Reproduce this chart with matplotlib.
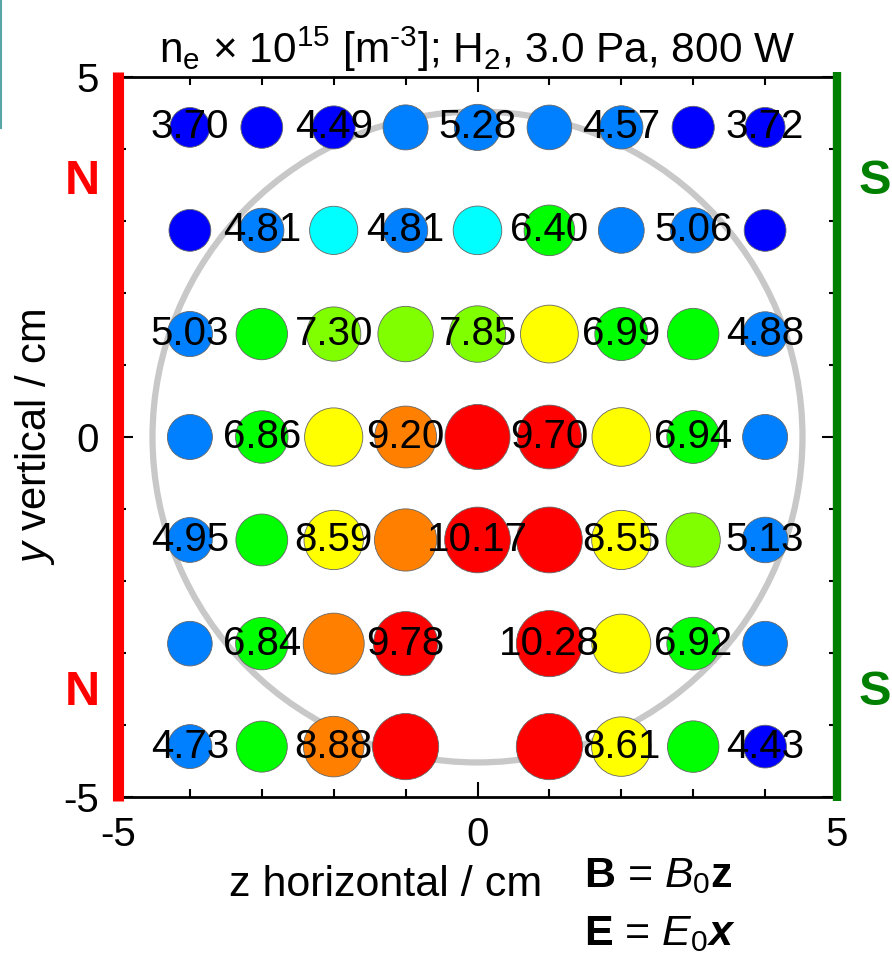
import matplotlib
matplotlib.use("Agg")
import matplotlib.pyplot as plt
from matplotlib.patches import Circle
from matplotlib.lines import Line2D
from matplotlib.ticker import MultipleLocator

plt.rcParams['font.family'] = ['Liberation Sans', 'DejaVu Sans']
plt.rcParams['mathtext.fontset'] = 'custom'
plt.rcParams['mathtext.rm'] = 'Liberation Sans'
plt.rcParams['mathtext.it'] = 'Liberation Sans:italic'
plt.rcParams['mathtext.bf'] = 'Liberation Sans:bold'
plt.rcParams['mathtext.bfit'] = 'Liberation Sans:italic:bold'
plt.rcParams['axes.unicode_minus'] = False

# ---------------- data ----------------
z_cols = [-4, -3, -2, -1, 0, 1, 2, 3, 4]
row_y = [4.3, 2.87, 1.43, 0.0, -1.43, -2.87, -4.3]

# electron density (x 1e15 m^-3); unlabeled points estimated from colour/size; None = no probe
ne_row1 = [3.70, 4.20, 4.49, 5.00, 5.28, 4.90, 4.57, 4.30, 3.72]
ne_row2 = [4.20, 4.81, 5.80, 4.81, 5.90, 6.40, 5.20, 5.06, 4.20]
ne_row3 = [5.03, 6.60, 7.30, 7.60, 7.85, 8.20, 6.99, 6.60, 4.88]
ne_row4 = [5.00, 6.86, 8.30, 9.20, 10.00, 9.70, 8.40, 6.94, 5.00]
ne_row5 = [4.95, 6.70, 8.59, 9.30, 10.17, 10.20, 8.55, 7.30, 5.13]
ne_row6 = [4.90, 6.84, 9.00, 9.78, None, 10.28, 8.50, 6.92, 4.90]
ne_row7 = [4.73, 6.50, 8.88, 10.30, None, 10.30, 8.61, 6.60, 4.43]

lab_row1 = ["3.70", "", "4.49", "", "5.28", "", "4.57", "", "3.72"]
lab_row2 = ["", "4.81", "", "4.81", "", "6.40", "", "5.06", ""]
lab_row3 = ["5.03", "", "7.30", "", "7.85", "", "6.99", "", "4.88"]
lab_row4 = ["", "6.86", "", "9.20", "", "9.70", "", "6.94", ""]
lab_row5 = ["4.95", "", "8.59", "", "10.17", "", "8.55", "", "5.13"]
lab_row6 = ["", "6.84", "", "9.78", "", "10.28", "", "6.92", ""]
lab_row7 = ["4.73", "", "8.88", "", "", "", "8.61", "", "4.43"]

bin_edges = [4.5, 5.5, 6.0, 7.0, 8.0, 8.75, 9.5]
bin_colors = ['#0000FF', '#0080FF', '#00FFFF', '#00FF00', '#80FF00',
              '#FFFF00', '#FF8000', '#FF0000']

values = [ne_row1, ne_row2, ne_row3, ne_row4, ne_row5, ne_row6, ne_row7]
labels = [lab_row1, lab_row2, lab_row3, lab_row4, lab_row5, lab_row6, lab_row7]


def colour_for(v):
    for edge, c in zip(bin_edges, bin_colors):
        if v < edge:
            return c
    return bin_colors[-1]


fig = plt.figure(figsize=(8.92, 9.60), dpi=100)
ax = fig.add_axes([118 / 892, 1 - 797 / 960, 719 / 892, 720 / 960])
ax.set_xlim(-5, 5)
ax.set_ylim(-5, 5)

# grey chamber circle
ax.add_patch(Circle((0, 0), 4.52, fill=False, ec='#c8c8c8', lw=4.5, zorder=1))

xs, ys, cs, ss = [], [], [], []
for y, vals in zip(row_y, values):
    for z, v in zip(z_cols, vals):
        if v is None:
            continue
        xs.append(z)
        ys.append(y)
        cs.append(colour_for(v))
        d_pt = (25 + 4.0 * v) * 0.72
        ss.append(d_pt ** 2)
ax.scatter(xs, ys, s=ss, c=cs, edgecolors='#666666', linewidths=0.6, zorder=3)

for y, labs in zip(row_y, labels):
    for z, t in zip(z_cols, labs):
        if t:
            ax.text(z, y, t, ha='center', va='center', fontsize=29, zorder=5)

# magnet lines
ax.plot([-5, -5], [-5.05, 5.07], color='#FF0000', lw=8, clip_on=False,
        solid_capstyle='butt', zorder=6)
ax.plot([5, 5], [-5.05, 5.07], color='#008000', lw=6, clip_on=False,
        solid_capstyle='butt', zorder=6)
for yy in (3.55, -3.55):
    ax.text(-5.5, yy, 'N', color='#FF0000', fontsize=35, fontweight='bold',
            ha='center', va='center', clip_on=False)
    ax.text(5.52, yy, 'S', color='#008000', fontsize=35, fontweight='bold',
            ha='center', va='center', clip_on=False)

# axes styling
for sp in ax.spines.values():
    sp.set_linewidth(2)
ax.xaxis.set_major_locator(MultipleLocator(5))
ax.xaxis.set_minor_locator(MultipleLocator(1))
ax.yaxis.set_major_locator(MultipleLocator(5))
ax.yaxis.set_minor_locator(MultipleLocator(1))
ax.tick_params(which='both', direction='in', top=True, right=True, width=1.5,
               labelsize=29)
ax.tick_params(which='major', length=11, pad=14)
ax.tick_params(which='minor', length=5.5)
ax.set_xticks([-5, 0, 5])
ax.set_xticklabels(['-5', '0', '5'])
ax.set_yticks([-5, 0, 5])
ax.set_yticklabels(['-5', '0', '5'])

ax.set_title('n$_\\mathregular{e}$ × 10$^{15}$ [m$^{\u20103}$]; H$_2$, 3.0 Pa, 800 W',
             fontsize=30.5, pad=10)

fig.text(386 / 892, 1 - 885 / 960, 'z horizontal / cm', fontsize=31,
         ha='center', va='center')
fig.text(35 / 892, 1 - 437 / 960, r'$\mathit{y}$ vertical / cm', fontsize=30,
         ha='center', va='center', rotation=90)
fig.text(584 / 892, 1 - 876 / 960, r'$\mathbf{B}$ = $\mathit{B}_0\mathbf{z}$',
         fontsize=31, ha='left', va='center')
fig.text(584 / 892, 1 - 934 / 960, r'$\mathbf{E}$ = $\mathit{E}_0\mathbfit{x}$',
         fontsize=31, ha='left', va='center')

# teal frame edge at top-left
fig.add_artist(Line2D([1 / 892, 1 / 892], [1, 1 - 128 / 960],
                      transform=fig.transFigure, color='#5aa5a5', lw=1.5))

fig.savefig('out.png', dpi=100)
